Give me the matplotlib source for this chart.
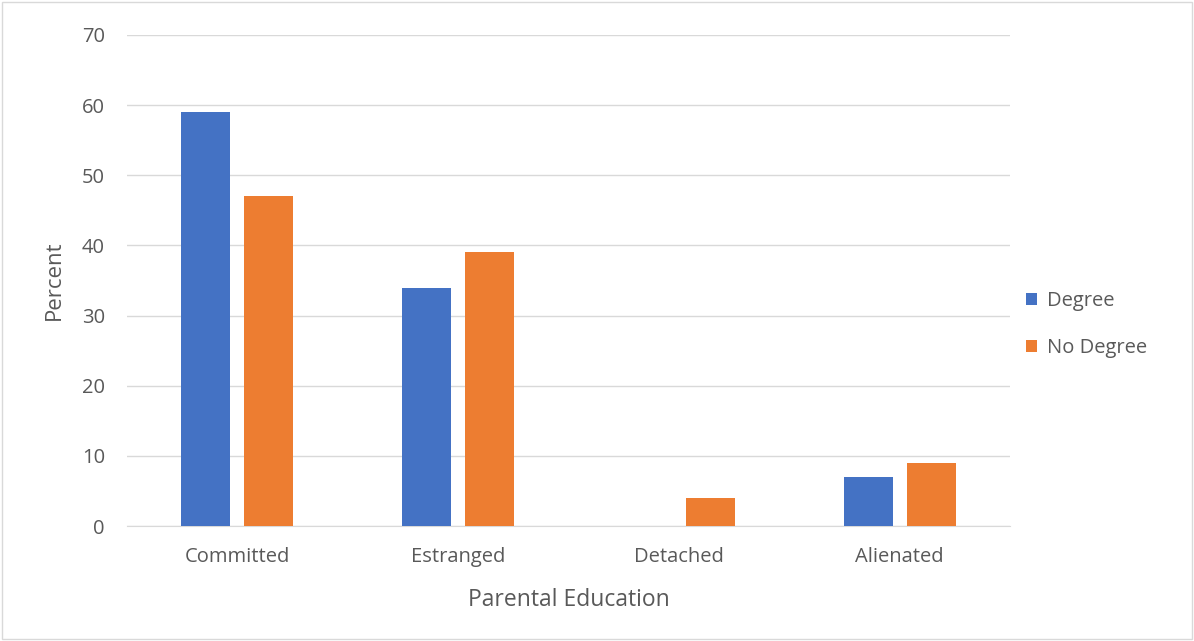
import matplotlib.pyplot as plt
import numpy as np
from matplotlib.patches import Rectangle

categories = ["Committed", "Estranged", "Detached", "Alienated"]
degree = [59, 34, 0, 7]
no_degree = [47, 39, 4, 9]
series_names = ["Degree", "No Degree"]
colors = ["#4472C4", "#ED7D31"]
yticks = [0, 10, 20, 30, 40, 50, 60, 70]

plt.rcParams['font.family'] = ['Open Sans', 'DejaVu Sans']

fig = plt.figure(figsize=(11.94, 6.41), dpi=100)
ax = fig.add_axes([0.1064, 0.1794, 0.7395, 0.766])

x = np.arange(len(categories))
w = 0.222
gap = 0.063
ax.bar(x - (w + gap) / 2, degree, width=w, color=colors[0], label=series_names[0], zorder=3)
ax.bar(x + (w + gap) / 2, no_degree, width=w, color=colors[1], label=series_names[1], zorder=3)

ax.set_xlim(-0.5, len(categories) - 0.5)
ax.set_ylim(0, 70)
ax.set_yticks(yticks)
ax.set_xticks(x)
ax.set_xticklabels(categories)
ax.tick_params(axis='both', length=0, labelsize=14.5, colors="#595959")
ax.tick_params(axis='x', pad=15)
ax.tick_params(axis='y', pad=16)
ax.grid(axis='y', color="#D9D9D9", linewidth=1, zorder=0)
for s in ["top", "right", "left"]:
    ax.spines[s].set_visible(False)
ax.spines["bottom"].set_color("#D9D9D9")

ax.set_xlabel("Parental Education", fontsize=16.5, color="#595959", labelpad=15)
ax.set_ylabel("Percent", fontsize=16, color="#595959", labelpad=12)

ax.legend(loc="center left", bbox_to_anchor=(0.998, 0.41), frameon=False,
          fontsize=14.5, labelcolor="#595959", handlelength=0.55, handleheight=0.55,
          labelspacing=1.35, handletextpad=0.45)

fig.patches.append(Rectangle((0.002, 0.003), 0.996, 0.994, transform=fig.transFigure,
                             fill=False, edgecolor="#D9D9D9", linewidth=1))

fig.savefig("out.png", dpi=100)
